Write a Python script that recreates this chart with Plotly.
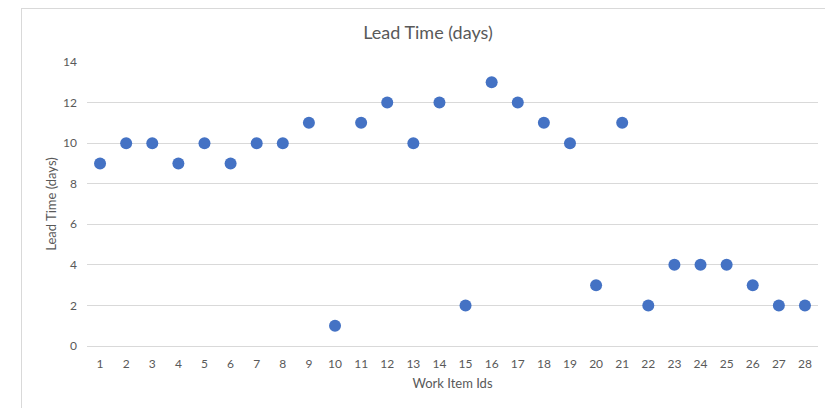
import plotly.graph_objects as go

work_items = list(range(1, 29))
lead_time = [9, 10, 10, 9, 10, 9, 10, 10, 11, 1, 11, 12, 10, 12, 2, 13, 12, 11, 10, 3, 11, 2, 4, 4, 4, 3, 2, 2]
y_ticks = [0, 2, 4, 6, 8, 10, 12, 14]

# page body adds an 8px offset; figure coordinates are screen - 8
OFF = 8
W, H = 833 - OFF, 408 - OFF
L = 87 - OFF
T = 62 - OFF
R = W - (818 - OFF)
B = H - (346 - OFF)
pw = W - L - R
ph = H - T - B

fig = go.Figure()
fig.add_trace(go.Scatter(
    x=work_items, y=lead_time, mode="markers",
    marker=dict(color="#4472C4", size=12, line=dict(width=0)),
    showlegend=False, hoverinfo="x+y",
))

font_family = "Lato, 'Open Sans', sans-serif"
fig.update_layout(
    width=W, height=H,
    margin=dict(l=L, r=R, t=T, b=B, autoexpand=False),
    paper_bgcolor="white", plot_bgcolor="white",
    font=dict(family=font_family, color="#595959", size=12),
    title=dict(text="Lead Time (days)", x=(428 - OFF) / W, xanchor="center",
               y=1 - (33 - OFF) / H, yanchor="middle",
               font=dict(size=18, color="#595959", family=font_family)),
    xaxis=dict(
        range=[0.5, 28.5], tickmode="array", tickvals=work_items,
        ticktext=[str(v) for v in work_items],
        showgrid=False, zeroline=False, showline=True, linecolor="#d9d9d9", linewidth=1,
        ticks="", ticklabelstandoff=7, tickfont=dict(size=12, color="#595959"),
        title=dict(text="Work Item Ids", font=dict(size=13, color="#595959"), standoff=8),
        automargin=False,
    ),
    yaxis=dict(
        range=[0, 14], tickmode="array", tickvals=y_ticks,
        showgrid=True, gridcolor="#d9d9d9", gridwidth=1,
        zeroline=False, showline=False, ticks="", ticklabelstandoff=9,
        tickfont=dict(size=12, color="#595959"),
        title=dict(text="Lead Time (days)", font=dict(size=13, color="#595959"), standoff=3),
        automargin=False,
    ),
    shapes=[
        dict(type="line", xref="paper", yref="paper",
             x0=(21 - OFF - L) / pw, x1=(W + 5 - L) / pw,
             y0=(H - B - 0.5) / ph, y1=(H - B - 0.5) / ph,
             line=dict(color="#d9d9d9", width=1)),
        dict(type="line", xref="paper", yref="paper",
             x0=(21.5 - OFF - L) / pw, x1=(21.5 - OFF - L) / pw,
             y0=(H - B) / ph, y1=(-B - 5) / ph,
             line=dict(color="#d9d9d9", width=1)),
    ],
)

fig.write_html("out.html")
